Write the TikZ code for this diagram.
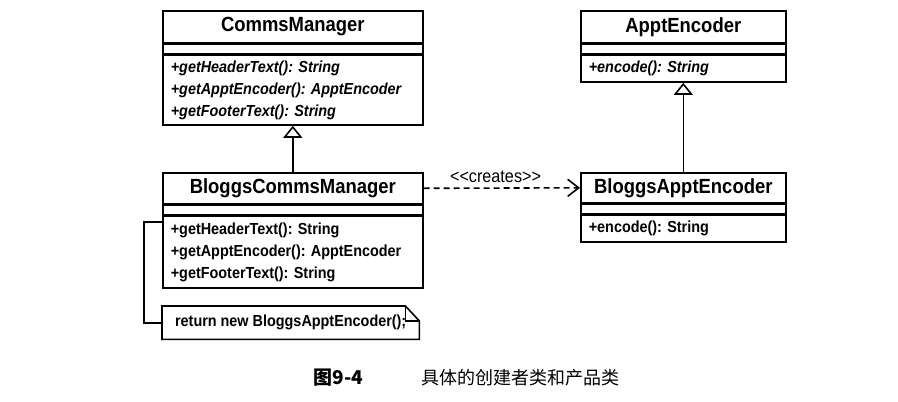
\documentclass[tikz,border=0pt]{standalone}
\usepackage{fontspec}
\setmainfont{Liberation Sans}[FakeStretch=0.9]
\newfontfamily\cjk{Noto Sans CJK SC}
\usepackage{tikz}
\usetikzlibrary{positioning,arrows.meta}
\frenchspacing

\tikzset{
  umlline/.style={line width=1.6pt},
  clsname/.style={draw, umlline, anchor=north west, minimum height=#1,
    font=\fontsize{20.5}{24}\selectfont\bfseries, inner sep=0pt},
  clsattr/.style={draw, umlline, minimum height=9pt, inner sep=0pt},
  clsops/.style={draw, umlline, minimum height=#1, inner xsep=8pt, inner ysep=0pt,
    align=left, font=\fontsize{16}{22}\selectfont\bfseries},
  inherits/.style={umlline, -{Triangle[open, length=12pt, width=19pt]}},
  creates/.style={umlline, dash pattern=on 6pt off 4pt, -{Straight Barb[length=11pt, width=17pt]}}
}

\begin{document}
\begin{tikzpicture}[x=1pt, y=-1pt]
  \useasboundingbox (0,0) rectangle (898,402);

  % CommsManager
  \node[clsname=32pt, minimum width=260pt] (cm) at (162,10) {CommsManager};
  \node[clsattr, minimum width=260pt, below=0pt of cm] (cm-attr) {};
  \node[clsops=70pt, text width=244pt, below=0pt of cm-attr] (cm-ops)
    {\itshape +getHeaderText(): String\\\itshape +getApptEncoder(): ApptEncoder\\\itshape +getFooterText(): String};

  % BloggsCommsManager
  \node[clsname=31pt, minimum width=260pt] (bcm) at (162,172) {BloggsCommsManager};
  \node[clsattr, minimum width=260pt, below=0pt of bcm] (bcm-attr) {};
  \node[clsops=72pt, text width=244pt, below=0pt of bcm-attr] (bcm-ops)
    {+getHeaderText(): String\\+getApptEncoder(): ApptEncoder\\+getFooterText(): String};

  % ApptEncoder
  \node[clsname=32pt, minimum width=205pt] (ae) at (580,10) {ApptEncoder};
  \node[clsattr, minimum width=205pt, below=0pt of ae] (ae-attr) {};
  \node[clsops=27pt, text width=189pt, below=0pt of ae-attr] (ae-ops)
    {\itshape +encode(): String};

  % BloggsApptEncoder
  \node[clsname=30pt, minimum width=205pt] (bae) at (580,172) {BloggsApptEncoder};
  \node[clsattr, minimum width=205pt, below=0pt of bae] (bae-attr) {};
  \node[clsops=27pt, text width=189pt, below=0pt of bae-attr] (bae-ops)
    {+encode(): String};

  % Note
  \node[anchor=north west, minimum width=257pt, minimum height=33pt, inner xsep=9pt,
    font=\fontsize{16}{22}\selectfont\bfseries] (note) at (162,306) {return new BloggsApptEncoder();};
  \draw[umlline] (note.north west) -- ([xshift=-14pt]note.north east)
    -- ([yshift=-15pt]note.north east) -- (note.south east) -- (note.south west) -- cycle;
  \draw[umlline] ([xshift=-14pt]note.north east) |- ([yshift=-15pt]note.north east);
  \coordinate (anchorpt) at ([yshift=-7pt]bcm-ops.north west);
  \draw[umlline] (anchorpt) -- ++(-18,0) |- (note.west);

  % Relations
  \draw[inherits] (bcm.north) -- (cm-ops.south);
  \draw[inherits] (bae.north) -- (ae-ops.south);
  \draw[creates] (bcm.east) -- node[above=1pt, pos=0.46, font=\fontsize{18}{20}\selectfont] {<{}<creates>{}>} (bae.west);

  % Caption
  \node[anchor=west, font=\cjk\fontsize{19}{20}\selectfont\bfseries] (fig) at (310,378) {图9-4};
  \node[anchor=west, font=\cjk\fontsize{18}{20}\selectfont] (cap) at (418,378) {具体的创建者类和产品类};
\end{tikzpicture}
\end{document}
